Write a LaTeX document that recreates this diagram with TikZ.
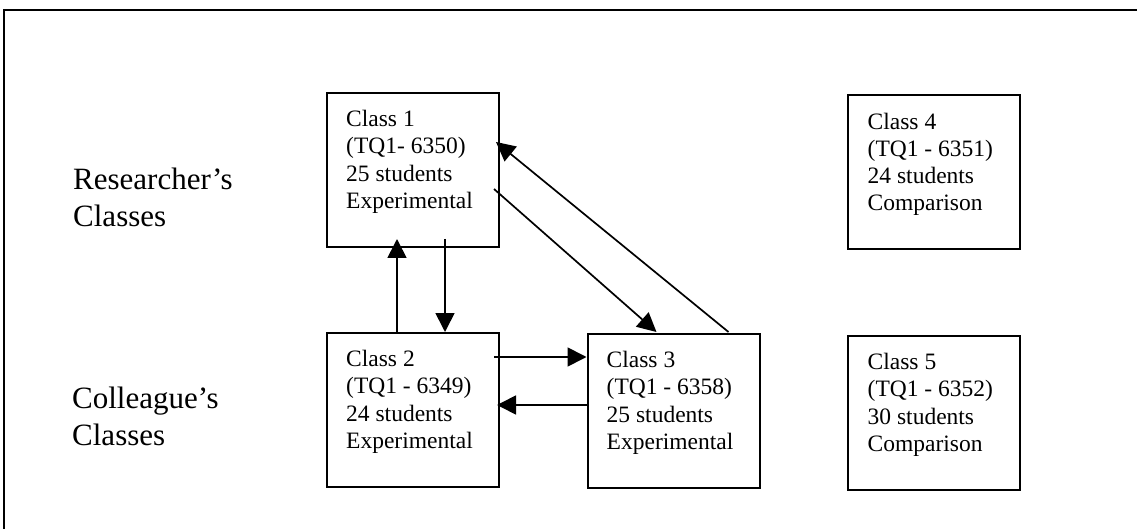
\documentclass[tikz,border=0pt]{standalone}
\usepackage{fontspec}
\setmainfont{Liberation Serif}
\usetikzlibrary{arrows.meta,calc}
\tikzset{
  classbox/.style={draw=black, line width=2pt, rectangle, minimum width=172pt, minimum height=154pt, inner sep=0pt},
  boxtext/.style={anchor=north west, inner sep=0pt, align=left, font=\fontsize{23.5pt}{27.3pt}\selectfont},
  sidetext/.style={anchor=north west, inner sep=0pt, align=left, font=\fontsize{31pt}{37pt}\selectfont},
  arr/.style={draw=black, line width=1.7pt, -{Triangle[length=19pt,width=19pt]}},
  frame/.style={draw=black, line width=2.4pt}
}
\begin{document}
\begin{tikzpicture}[x=1pt, y=-1pt]
\useasboundingbox (0,0) rectangle (1137,529);
% outer frame (left and top edges)
\draw[frame] (4,529) -- (4,10) -- (1137,10);

% side labels
\node[sidetext] (lr) at (73,168) {Researcher’s\\Classes};
\node[sidetext] (lc) at (72,387) {Colleague’s\\Classes};

% boxes
\node[classbox] (c1) at (413,170) {};
\node[classbox] (c2) at (413,410) {};
\node[classbox] (c3) at (673.5,411) {};
\node[classbox] (c4) at (933.5,172.5) {};
\node[classbox] (c5) at (933.5,413) {};

% box texts
\node[boxtext] (t1) at ($(c1.north west)+(20,18)$) {Class 1\\(TQ1- 6350)\\25 students\\Experimental};
\node[boxtext] (t2) at ($(c2.north west)+(20,18)$) {Class 2\\(TQ1 - 6349)\\24 students\\Experimental};
\node[boxtext] (t3) at ($(c3.north west)+(20,18)$) {Class 3\\(TQ1 - 6358)\\25 students\\Experimental};
\node[boxtext] (t4) at ($(c4.north west)+(21,18)$) {Class 4\\(TQ1 - 6351)\\24 students\\Comparison};
\node[boxtext] (t5) at ($(c5.north west)+(21,18)$) {Class 5\\(TQ1 - 6352)\\30 students\\Comparison};

% connectors
\draw[arr] ($(c2.north west)+(71,0)$) -- ($(c1.south west)+(71,-9)$);
\draw[arr] ($(c1.south west)+(119,-9)$) -- ($(c2.north west)+(119,0)$);
\draw[arr] ($(c2.north east)+(-6,25)$) -- ($(c3.north west)+(0,24)$);
\draw[arr] ($(c3.north west)+(0,72)$) -- ($(c2.north east)+(-3,73)$);
\draw[arr] ($(c1.north east)+(-6,97)$) -- ($(c3.north west)+(70,-1)$);
\draw[arr] ($(c3.north west)+(142,-1)$) -- ($(c1.north east)+(-4,50)$);
\end{tikzpicture}
\end{document}
